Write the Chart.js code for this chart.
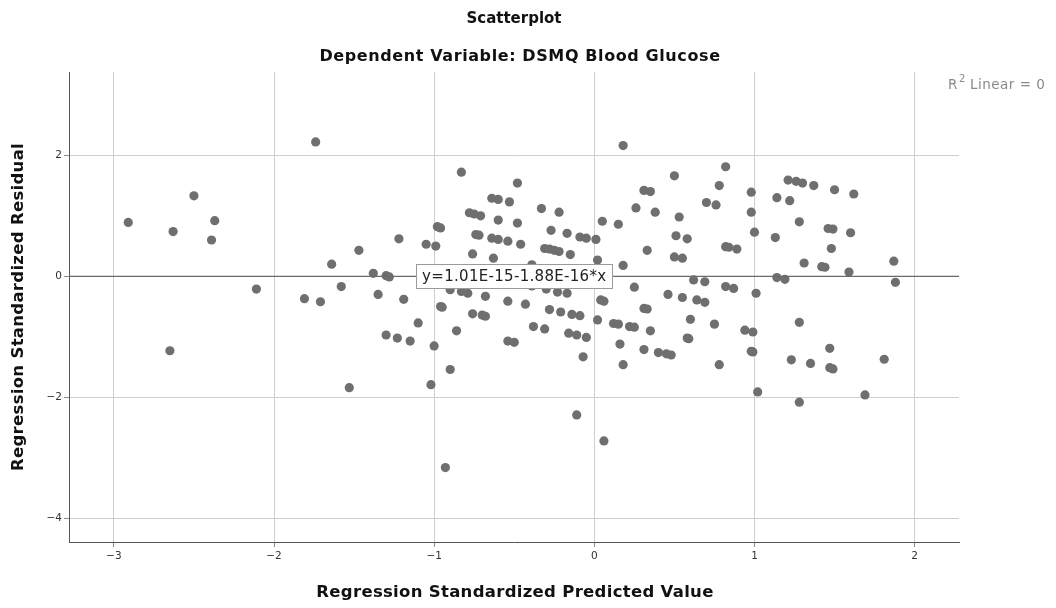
<!DOCTYPE html>
<html lang="en">
<head>
<meta charset="UTF-8">
<title>Scatterplot</title>
<script src="https://cdn.jsdelivr.net/npm/chart.js"></script>
<style>
  html, body { margin: 0; padding: 0; background: #fff; }
  canvas { display: block; }
</style>
</head>
<body>
<canvas id="scatter" width="1056" height="608"></canvas>
<script>
// standardized predicted values (x) and standardized residuals (y)
const predicted = [
  -2.91, -2.63, -2.50, -2.37, -2.39, -2.65, -2.11, -1.74, -1.81, -1.71,
  -1.64, -1.58, -1.53, -1.47, -1.38, -1.30, -1.28, -1.35, -1.22, -1.19,
  -1.10, -1.30, -1.23, -1.15, -1.05, -0.99, -1.00, -1.02, -0.98, -0.96,
  -0.96, -0.95, -0.93, -0.90, -0.90, -0.86, -0.83, -0.83, -0.79, -0.78,
  -0.75, -0.71, -0.76, -0.76, -0.74, -0.72, -0.70, -0.68, -0.68, -0.64,
  -0.60, -0.64, -0.60, -0.63, -0.60, -0.54, -0.53, -0.54, -0.54, -0.50,
  -0.48, -0.48, -0.46, -0.43, -0.39, -0.39, -0.38, -0.33, -0.31, -0.31,
  -0.30, -0.28, -0.28, -0.27, -0.25, -0.23, -0.22, -0.22, -0.21, -0.17,
  -0.17, -0.15, -0.16, -0.14, -0.11, -0.11, -0.09, -0.09, -0.07, -0.05,
  -0.05, 0.01, 0.02, 0.02, 0.04, 0.06, 0.05, 0.06, 0.12, 0.15,
  0.15, 0.16, 0.18, 0.18, 0.18, 0.22, 0.25, 0.25, 0.26, 0.31,
  0.35, 0.31, 0.33, 0.31, 0.33, 0.35, 0.38, 0.40, 0.45, 0.48,
  0.46, 0.50, 0.50, 0.51, 0.53, 0.55, 0.55, 0.58, 0.58, 0.59,
  0.60, 0.62, 0.64, 0.69, 0.69, 0.70, 0.76, 0.75, 0.78, 0.78,
  0.82, 0.82, 0.84, 0.89, 0.82, 0.87, 0.94, 0.99, 0.98, 0.98,
  1.00, 0.98, 0.99, 1.01, 1.02, 1.13, 1.14, 1.14, 1.19, 1.22,
  1.21, 1.26, 1.30, 1.23, 1.28, 1.28, 1.28, 1.31, 1.35, 1.37,
  1.42, 1.44, 1.46, 1.49, 1.47, 1.47, 1.49, 1.48, 1.50, 1.59,
  1.60, 1.62, 1.69, 1.81, 1.87, 1.88
];
const residual = [
  0.89, 0.74, 1.33, 0.92, 0.60, -1.23, -0.21, 2.22, -0.37, -0.42,
  0.20, -0.17, -1.84, 0.43, 0.05, 0.01, -0.01, -0.30, 0.62, -0.38,
  -0.77, -0.97, -1.02, -1.07, 0.53, 0.50, -1.15, -1.79, 0.82, 0.80,
  -0.50, -0.51, -3.16, -0.22, -1.54, -0.90, 1.72, -0.25, -0.28, 1.05,
  1.03, 1.00, 0.37, -0.62, 0.69, 0.68, -0.64, -0.66, -0.33, 1.29,
  1.27, 0.63, 0.61, 0.30, 0.93, 0.58, 1.23, -0.41, -1.07, -1.09,
  1.54, 0.88, 0.53, -0.46, 0.19, -0.16, -0.83, 1.12, 0.46, -0.87,
  -0.21, 0.45, -0.55, 0.76, 0.43, -0.26, 1.06, 0.41, -0.59, 0.71,
  -0.28, 0.36, -0.94, -0.63, -0.97, -2.29, 0.65, -0.65, -1.33, 0.63,
  -1.01, 0.61, 0.27, -0.72, -0.39, -0.41, 0.91, -2.72, -0.78, -0.79,
  0.86, -1.12, 0.18, -1.46, 2.16, -0.83, -0.84, -0.18, 1.13, 1.42,
  1.40, -0.53, -0.54, -1.21, 0.43, -0.90, 1.06, -1.26, -1.28, -1.30,
  -0.30, 1.66, 0.32, 0.67, 0.98, -0.35, 0.30, 0.62, -1.02, -1.03,
  -0.71, -0.06, -0.39, -0.09, -0.43, 1.22, 1.18, -0.79, 1.50, -1.46,
  1.81, 0.49, 0.48, 0.45, -0.17, -0.20, -0.89, -0.92, 1.39, 1.06,
  0.73, -1.24, -1.25, -0.28, -1.91, 0.64, 1.30, -0.02, -0.05, 1.25,
  1.59, 1.57, 1.54, -1.38, 0.90, -0.76, -2.08, 0.22, -1.44, 1.50,
  0.16, 0.15, 0.79, 0.78, -1.19, -1.51, -1.53, 0.46, 1.43, 0.07,
  0.72, 1.36, -1.96, -1.37, 0.25, -0.10
];

const xTicks = [-3, -2, -1, 0, 1, 2];
const yTicks = [2, 0, -2, -4];
const xRange = [-3.28, 2.277];
const yRange = [-4.39, 3.376];

// fit line y = a + b*x
const intercept = 1.01e-15;
const slope = -1.88e-16;
const fitLabel = 'y=1.01E-15-1.88E-16*x';
const fitLabelAt = -0.5;

const titleText = 'Scatterplot';
const subtitleText = 'Dependent Variable: DSMQ Blood Glucose';
const xTitle = 'Regression Standardized Predicted Value';
const yTitle = 'Regression Standardized Residual';

const points = predicted.map((x, i) => ({ x: x, y: residual[i] }));
const fitPoints = xRange.map(x => ({ x: x, y: intercept + slope * x }));

const minus = v => (v < 0 ? '\u2212' + Math.abs(v) : String(v));

const textPlugin = {
  id: 'spssText',
  afterDraw(chart) {
    const ctx = chart.ctx;
    const area = chart.chartArea;
    const xs = chart.scales.x, ys = chart.scales.y;
    const cx = (area.left + area.right) / 2;
    const cy = (area.top + area.bottom) / 2;
    ctx.save();
    ctx.fillStyle = '#111';
    ctx.textAlign = 'center';
    ctx.textBaseline = 'middle';
    ctx.font = 'bold 15px "DejaVu Sans"';
    ctx.fillText(titleText, cx, 19);
    ctx.font = 'bold 16px "DejaVu Sans"';
    ctx.letterSpacing = '0.6px';
    ctx.fillText(subtitleText, cx + 6, 57);
    ctx.font = 'bold 16.5px "DejaVu Sans"';
    ctx.letterSpacing = '0.3px';
    ctx.fillText(xTitle, cx + 1, 593);
    ctx.save();
    ctx.translate(19, cy);
    ctx.rotate(-Math.PI / 2);
    ctx.fillText(yTitle, 0, 0);
    ctx.restore();

    // R2 legend, top right
    ctx.fillStyle = '#8a8a8a';
    ctx.textAlign = 'left';
    ctx.letterSpacing = '0.5px';
    ctx.font = '13.5px "DejaVu Sans"';
    ctx.fillText('R', 948, 85);
    const rw = ctx.measureText('R').width;
    ctx.font = '10px "DejaVu Sans"';
    ctx.fillText('2', 948 + rw + 1, 79);
    ctx.font = '13.5px "DejaVu Sans"';
    ctx.fillText('Linear = 0', 948 + rw + 12, 85);

    // fit line label box
    const lx = xs.getPixelForValue(fitLabelAt);
    const ly = ys.getPixelForValue(intercept + slope * fitLabelAt);
    ctx.font = '15px "DejaVu Sans"';
    ctx.letterSpacing = '0.3px';
    const w = ctx.measureText(fitLabel).width + 12;
    const h = 24;
    const bx = Math.round(lx - w / 2) + 0.5, by = Math.round(ly - h / 2) + 0.5;
    ctx.fillStyle = '#fff';
    ctx.fillRect(bx, by, Math.round(w), h);
    ctx.strokeStyle = '#9a9a9a';
    ctx.lineWidth = 1;
    ctx.strokeRect(bx, by, Math.round(w), h);
    ctx.fillStyle = '#222';
    ctx.textAlign = 'center';
    ctx.fillText(fitLabel, lx, ly + 1);
    ctx.restore();
  }
};

new Chart(document.getElementById('scatter'), {
  type: 'scatter',
  data: {
    datasets: [
      {
        data: points,
        backgroundColor: '#6f6f6f',
        borderWidth: 0,
        pointRadius: 4.6,
        order: 2
      },
      {
        type: 'line',
        data: fitPoints,
        borderColor: '#6a6a6a',
        borderWidth: 1.2,
        pointRadius: 0,
        fill: false,
        order: 1
      }
    ]
  },
  options: {
    responsive: false,
    animation: false,
    devicePixelRatio: 1,
    layout: { padding: { top: 72, right: 97, left: 0, bottom: 0 } },
    plugins: {
      legend: { display: false },
      tooltip: { enabled: false }
    },
    scales: {
      x: {
        type: 'linear',
        min: xRange[0],
        max: xRange[1],
        afterFit: s => { s.height = 66; },
        afterBuildTicks: s => { s.ticks = xTicks.map(v => ({ value: v })); },
        grid: { color: '#cfcfcf', lineWidth: 1, tickLength: 5, tickColor: '#8a8a8a' },
        border: { color: '#555', width: 1 },
        ticks: {
          color: '#333',
          font: { family: '"DejaVu Sans"', size: 10.5 },
          padding: 3,
          maxRotation: 0,
          callback: minus
        }
      },
      y: {
        type: 'linear',
        min: yRange[0],
        max: yRange[1],
        afterFit: s => { s.width = 69; },
        afterBuildTicks: s => { s.ticks = yTicks.map(v => ({ value: v })); },
        grid: { color: '#cfcfcf', lineWidth: 1, tickLength: 5, tickColor: '#8a8a8a' },
        border: { color: '#555', width: 1 },
        ticks: {
          color: '#333',
          font: { family: '"DejaVu Sans"', size: 10.5 },
          padding: 2,
          callback: minus
        }
      }
    }
  },
  plugins: [textPlugin]
});
</script>
</body>
</html>
